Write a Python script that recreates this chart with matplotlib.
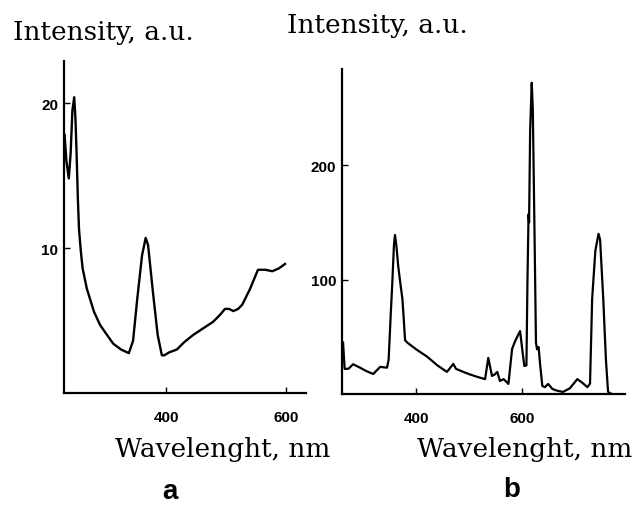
import numpy as np
import matplotlib.pyplot as plt

# panel a: excitation-like spectrum
wl_a = [231, 234, 238, 241, 244, 247, 249, 251, 253, 255, 258, 261, 268, 280, 290,
        300, 312, 325, 338, 345, 352, 360, 366, 370, 378, 386, 393, 397, 405, 418,
        430, 445, 465, 478, 490, 498, 505, 512, 520, 527, 540, 553, 565, 577, 588, 598]
int_a = [17.8, 16.0, 14.8, 16.5, 19.5, 20.4, 19.0, 16.5, 13.5, 11.3, 9.8, 8.6, 7.2, 5.6, 4.7,
         4.1, 3.4, 3.0, 2.75, 3.6, 6.5, 9.5, 10.7, 10.2, 7.0, 4.0, 2.6, 2.6, 2.8, 3.0,
         3.5, 4.0, 4.55, 4.9, 5.4, 5.8, 5.8, 5.65, 5.8, 6.1, 7.2, 8.5, 8.5, 8.4, 8.6, 8.9]

# panel b: emission-like spectrum
wl_b = [262, 265, 272, 281, 294, 306, 319, 332, 345, 348, 352, 355, 358, 360, 363,
        366, 370, 374, 377, 379, 383, 400, 421, 440, 458, 470, 475, 489, 502, 515,
        530, 536, 543, 548, 553, 558, 565, 574, 581, 587, 596, 600, 604, 608, 610,
        612, 613, 615, 618, 620, 623, 626, 628, 631, 634, 638, 643, 649, 657, 665,
        677, 690, 704, 713, 723, 728, 732, 738, 744, 747, 753, 758, 762, 766, 770]
int_b = [45, 22, 22, 26, 23, 20, 17.5, 23.7, 23, 30, 70, 98, 130, 139, 128,
         112, 97, 83, 62, 47, 45, 39, 32.5, 25, 19.3, 26.3, 22, 19.3, 17, 15,
         13, 31.5, 15.8, 17, 19.3, 11.4, 13, 8.8, 39.5, 46.5, 55, 39.5, 24.5, 25, 100,
         157, 150, 230, 272, 250, 150, 45, 39, 41, 25, 7, 6, 8.8, 4.4, 3,
         1.8, 5, 13, 10, 6, 9, 83, 125, 140, 135, 83, 30, 2, 0.5, 0]

ticks_a_x = [400, 600]
ticks_a_y = [10, 20]
ticks_b_x = [400, 600]
ticks_b_y = [100, 200]

fig = plt.figure(figsize=(6.42, 5.06), dpi=100)

tick_font = dict(family=['Liberation Sans', 'DejaVu Sans'], weight='bold', size=11)
label_font = dict(family=['DejaVu Serif'], size=19)


def style(ax, xt, yt):
    for s in ['top', 'right']:
        ax.spines[s].set_visible(False)
    for s in ['left', 'bottom']:
        ax.spines[s].set_linewidth(1.6)
    ax.set_xticks(xt)
    ax.set_yticks(yt)
    ax.tick_params(direction='in', length=4, width=1)
    ax.tick_params(axis='x', pad=12)
    ax.tick_params(axis='y', pad=4)
    for lab in ax.get_xticklabels() + ax.get_yticklabels():
        lab.set_fontfamily(tick_font['family'])
        lab.set_fontweight('bold')
        lab.set_fontsize(tick_font['size'])


ax1 = fig.add_axes([64 / 642, 1 - 394 / 506, 242 / 642, 332 / 506])
ax1.plot(wl_a, int_a, color='black', lw=1.7)
ax1.set_xlim(230, 633)
ax1.set_ylim(0, 22.9)
style(ax1, ticks_a_x, ticks_a_y)

ax2 = fig.add_axes([342 / 642, 1 - 395 / 506, 283 / 642, 325 / 506])
ax2.plot(wl_b, int_b, color='black', lw=1.6)
ax2.set_xlim(260, 794)
ax2.set_ylim(0, 284)
style(ax2, ticks_b_x, ticks_b_y)

fig.text(13 / 642, 1 - 40 / 506, 'Intensity, a.u.', va='baseline', ha='left', **label_font)
fig.text(287 / 642, 1 - 33 / 506, 'Intensity, a.u.', va='baseline', ha='left', **label_font)
fig.text(115 / 642, 1 - 457 / 506, 'Wavelenght, nm', va='baseline', ha='left', **label_font)
fig.text(417 / 642, 1 - 457 / 506, 'Wavelenght, nm', va='baseline', ha='left', **label_font)

fig.text(170 / 642, 1 - 499 / 506, 'a', va='baseline', ha='center',
         family=['Liberation Sans', 'DejaVu Sans'], weight='bold', size=20)
fig.text(512 / 642, 1 - 497 / 506, 'b', va='baseline', ha='center',
         family=['Liberation Sans', 'DejaVu Sans'], weight='bold', size=20)

fig.savefig('out.png', dpi=100)
